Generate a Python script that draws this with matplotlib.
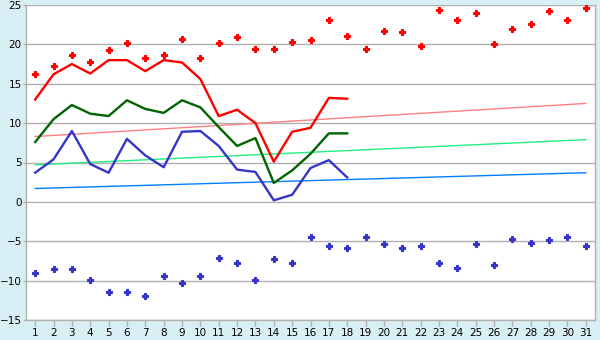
import matplotlib
matplotlib.use('Agg')
import matplotlib.pyplot as plt

days = list(range(1, 32))

# daily extremes (markers)
max_temp = [16.3, 17.2, 18.7, 17.8, 19.3, 20.2, 18.3, 18.6, 20.7, 18.3,
            20.2, 21.0, 19.4, 19.4, 20.3, 20.5, 23.1, 21.1, 19.4, 21.7,
            21.6, 19.8, 24.4, 23.1, 24.0, 20.1, 22.0, 22.6, 24.3, 23.1, 24.6]
min_temp = [-9.0, -8.5, -8.5, -9.9, -11.4, -11.4, -11.9, -9.4, -10.3, -9.4,
            -7.1, -7.8, -9.9, -7.2, -7.8, -4.4, -5.6, -5.9, -4.4, -5.4,
            -5.8, -5.6, -7.8, -8.4, -5.3, -8.0, -4.7, -5.2, -4.9, -4.5, -5.6]

# observed this month (days 1-18)
obs_days = list(range(1, 19))
obs_max = [13.0, 16.2, 17.5, 16.3, 18.0, 18.0, 16.6, 18.0, 17.7, 15.6,
           10.9, 11.7, 10.0, 5.1, 8.9, 9.4, 13.2, 13.1]
obs_mean = [7.6, 10.5, 12.3, 11.2, 10.9, 12.9, 11.8, 11.3, 12.9, 12.0,
            9.5, 7.1, 8.1, 2.4, 4.0, 6.1, 8.7, 8.7]
obs_min = [3.7, 5.4, 9.0, 4.8, 3.7, 8.0, 5.9, 4.4, 8.9, 9.0,
           7.1, 4.1, 3.8, 0.2, 0.9, 4.3, 5.3, 3.1]

# normals (start / end of month)
norm_days = [1, 31]
norm_max = [8.3, 12.5]
norm_mean = [4.7, 7.9]
norm_min = [1.7, 3.7]

bg = '#d9eff6'
fig = plt.figure(figsize=(6, 3.4), dpi=100, facecolor=bg)
ax = fig.add_axes([26 / 600, 20 / 340, 569 / 600, 315 / 340])
ax.set_facecolor('white')

ax.plot(norm_days, norm_max, color='#ff8080', lw=1.0, zorder=2)
ax.plot(norm_days, norm_mean, color='#20f080', lw=1.0, zorder=2)
ax.plot(norm_days, norm_min, color='#0080ff', lw=1.0, zorder=2)

ax.plot(obs_days, obs_max, color='#ff0000', lw=1.7, zorder=3)
ax.plot(obs_days, obs_mean, color='#006400', lw=1.7, zorder=3)
ax.plot(obs_days, obs_min, color='#3535c8', lw=1.7, zorder=3)

ax.plot(days, max_temp, ls='none', marker='P', ms=4.5, mew=0.8, color='#ff0000', zorder=4)
ax.plot(days, min_temp, ls='none', marker='P', ms=4.5, mew=0.8, color='#3535c8', zorder=4)

ax.set_xlim(0.5, 31.5)
ax.set_ylim(-15, 25)
ax.set_xticks(days)
ax.set_yticks(range(-15, 26, 5))
ax.yaxis.grid(True, color='#b0b0b0', lw=1.0)
ax.set_axisbelow(True)
for s in ax.spines.values():
    s.set_color('#b0b0b0')
    s.set_linewidth(1.0)
ax.spines['top'].set_visible(False)
ax.tick_params(axis='both', colors='#b0b0b0', labelcolor='black', labelsize=7.5, length=4, width=1)
ax.tick_params(axis='y', pad=1, length=2)
ax.tick_params(axis='x', pad=2)

fig.savefig('out.png', dpi=100, facecolor=bg)
